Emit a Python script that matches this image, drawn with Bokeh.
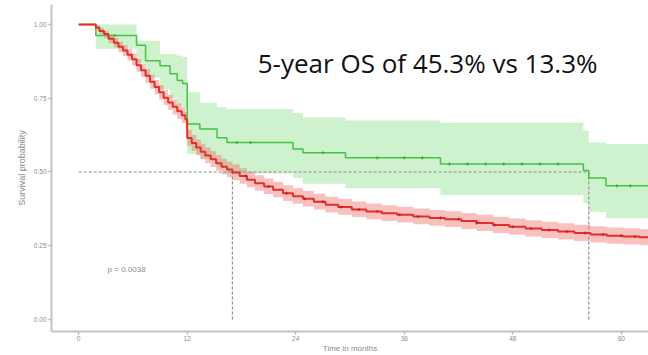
import numpy as np
from bokeh.plotting import figure
from bokeh.models import Label, FixedTicker
from bokeh.embed import file_html
from bokeh.resources import INLINE

# ---- data ----
red_t = [0, 1.9, 2.3, 2.8, 3.3, 3.9, 4.4, 4.9, 5.4, 5.9, 6.4, 6.9, 7.4, 7.9, 8.4, 8.9, 9.4, 9.9,
         10.4, 10.9, 11.4, 11.8, 12.0, 12.5, 13.0, 13.5, 14.0, 14.6, 15.2, 15.8, 16.4, 17.0,
         17.8, 18.6, 19.5, 20.5, 21.5, 22.6, 23.7, 24.8, 26.0, 27.3, 28.7, 30.2, 31.8, 33.5,
         35.2, 37.0, 38.8, 40.5, 42.3, 44.0, 45.8, 47.6, 49.4, 51.2, 53.0, 54.8, 56.6, 58.4,
         60.2, 62.0, 63.0]
red_s = [1.000, 0.990, 0.978, 0.968, 0.952, 0.938, 0.925, 0.912, 0.898, 0.882, 0.862, 0.845,
         0.826, 0.806, 0.788, 0.770, 0.752, 0.736, 0.721, 0.706, 0.692, 0.678, 0.615, 0.598,
         0.583, 0.569, 0.556, 0.543, 0.530, 0.518, 0.508, 0.498, 0.486, 0.474, 0.462, 0.451,
         0.440, 0.428, 0.418, 0.409, 0.399, 0.389, 0.381, 0.373, 0.366, 0.360, 0.355, 0.349,
         0.344, 0.340, 0.334, 0.327, 0.320, 0.314, 0.308, 0.303, 0.298, 0.293, 0.288, 0.284,
         0.281, 0.279, 0.279]
red_lo = [1.000, 0.982, 0.967, 0.955, 0.937, 0.922, 0.907, 0.893, 0.878, 0.861, 0.840, 0.822,
          0.803, 0.782, 0.764, 0.745, 0.727, 0.711, 0.695, 0.680, 0.666, 0.652, 0.589, 0.572,
          0.557, 0.543, 0.530, 0.517, 0.504, 0.492, 0.482, 0.472, 0.460, 0.448, 0.436, 0.425,
          0.414, 0.402, 0.392, 0.383, 0.373, 0.363, 0.355, 0.347, 0.340, 0.334, 0.329, 0.323,
          0.318, 0.313, 0.307, 0.300, 0.293, 0.287, 0.281, 0.276, 0.271, 0.266, 0.261, 0.257,
          0.254, 0.252, 0.252]
red_hi = [1.000, 0.997, 0.988, 0.980, 0.966, 0.954, 0.942, 0.930, 0.917, 0.902, 0.883, 0.867,
          0.849, 0.830, 0.812, 0.795, 0.777, 0.761, 0.747, 0.732, 0.718, 0.704, 0.642, 0.625,
          0.610, 0.596, 0.583, 0.570, 0.557, 0.545, 0.535, 0.525, 0.513, 0.501, 0.489, 0.478,
          0.467, 0.455, 0.445, 0.436, 0.426, 0.416, 0.408, 0.400, 0.393, 0.387, 0.382, 0.376,
          0.371, 0.367, 0.361, 0.355, 0.348, 0.342, 0.336, 0.331, 0.326, 0.321, 0.316, 0.312,
          0.309, 0.307, 0.307]

green_t = [0, 1.9, 6.4, 7.4, 9.0, 10.1, 10.9, 11.5, 12.0, 13.4, 15.3, 16.4, 23.7, 24.8, 29.5,
           40.0, 55.8, 56.4, 58.3, 63.0]
green_s = [1.000, 0.963, 0.930, 0.877, 0.860, 0.833, 0.810, 0.800, 0.663, 0.646, 0.616, 0.600,
           0.578, 0.565, 0.548, 0.527, 0.505, 0.480, 0.453, 0.453]
green_lo = [1.000, 0.918, 0.870, 0.820, 0.780, 0.750, 0.725, 0.715, 0.560, 0.545, 0.515, 0.495,
            0.480, 0.460, 0.445, 0.422, 0.395, 0.365, 0.343, 0.343]
green_hi = [1.000, 1.000, 0.945, 0.945, 0.900, 0.900, 0.895, 0.890, 0.770, 0.735, 0.720, 0.714,
            0.700, 0.685, 0.675, 0.668, 0.640, 0.600, 0.595, 0.595]

red_censor = [18.5, 21, 23, 25, 27, 29, 31, 33, 35.5, 37.5, 40, 42, 44, 46, 48, 50, 52, 54,
              56, 58, 60, 61.5]
green_censor = [4, 17.5, 19, 27, 33, 36, 38, 41, 43, 45, 47, 49, 51, 53, 59.5, 61]

medians = [17.0, 56.4]
x_ticks = [0, 12, 24, 36, 48, 60]
y_ticks = [0, 0.25, 0.5, 0.75, 1.0]
y_tick_labels = ["0.00", "0.25", "0.50", "0.75", "1.00"]
annotation = "5-year OS of 45.3% vs 13.3%"
p_text = "p = 0.0038"

GREEN = "#46c246"
RED = "#e0302a"


def step_at(times, surv, pts):
    idx = np.searchsorted(np.array(times), np.array(pts), side="right") - 1
    return list(np.array(surv)[idx])


p = figure(width=648, height=355, x_range=(-3, 63), y_range=(-0.041, 1.068),
           output_backend="svg", toolbar_location=None,
           min_border_left=51, min_border_right=0, min_border_top=4, min_border_bottom=22)
p.outline_line_color = None
p.xgrid.grid_line_color = None
p.ygrid.grid_line_color = None
p.background_fill_color = "white"

# bands
p.varea_step(x=green_t, y1=green_lo, y2=green_hi, step_mode="after",
             fill_color="#66d966", fill_alpha=0.33)
p.varea_step(x=red_t, y1=red_lo, y2=red_hi, step_mode="after",
             fill_color="#f05a5a", fill_alpha=0.38)

# median reference lines
p.line(x=[0, medians[1]], y=[0.5, 0.5], line_color="#8f8f8f", line_dash="3 2", line_width=1.2)
for m in medians:
    p.line(x=[m, m], y=[0, 0.5], line_color="#8f8f8f", line_dash="3 2", line_width=1.2)

# curves
p.step(x=green_t, y=green_s, mode="after", line_color=GREEN, line_width=1.5)
p.step(x=red_t, y=red_s, mode="after", line_color=RED, line_width=2)

p.scatter(x=green_censor, y=step_at(green_t, green_s, green_censor), marker="cross",
          size=3, line_color="#35a835", line_width=1)
p.scatter(x=red_censor, y=step_at(red_t, red_s, red_censor), marker="cross",
          size=3, line_color="#b52424", line_width=1)

# axes
for ax in (p.xaxis[0], p.yaxis[0]):
    ax.axis_line_color = "#c4c4c4"
    ax.axis_line_width = 2
    ax.major_tick_line_color = "#b8b8b8"
    ax.major_tick_line_width = 1.5
    ax.major_tick_out = 3
    ax.major_tick_in = 0
    ax.minor_tick_line_color = None
    ax.major_label_text_font = "Liberation Sans"
    ax.major_label_text_font_size = "6.5px"
    ax.major_label_text_color = "#8c8c8c"
    ax.axis_label_text_font = "Liberation Sans"
    ax.axis_label_text_font_style = "normal"
    ax.axis_label_text_color = "#8c8c8c"
    ax.major_label_standoff = 1
    ax.axis_label_standoff = 0

p.xaxis.axis_label_text_font_size = "8px"
p.yaxis.axis_label_text_font_size = "9px"
p.yaxis.major_label_standoff = 2
p.yaxis.axis_label_standoff = 4
p.xaxis.ticker = FixedTicker(ticks=x_ticks)
p.yaxis.ticker = FixedTicker(ticks=y_ticks)
p.yaxis.major_label_overrides = {t: l for t, l in zip(y_ticks, y_tick_labels)}
p.xaxis.axis_label = "Time in months"
p.yaxis.axis_label = "Survival probability"

p.add_layout(Label(x=19.8, y=0.871, text=annotation, text_font="Open Sans",
                   text_font_size="26px", text_color="#111111", text_baseline="middle"))
p.add_layout(Label(x=3.2, y=0.17, text=p_text, text_font="Liberation Sans",
                   text_font_size="8px", text_color="#8c8c8c", text_baseline="middle"))

open("out.html", "w").write(file_html(p, INLINE))
